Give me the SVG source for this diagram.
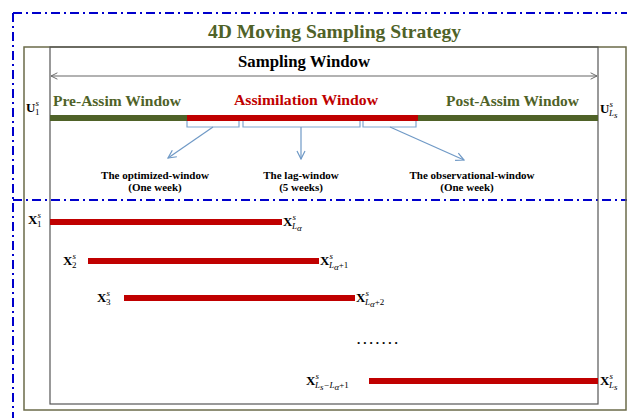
<svg xmlns="http://www.w3.org/2000/svg" width="627" height="418" viewBox="0 0 627 418">
<style>
text{font-family:"Liberation Serif","Times New Roman",serif;font-weight:bold}
.title{font-size:19.5px;fill:#4f6228}
.hd{font-size:16.5px;fill:#000}
.ol{font-size:15.5px;fill:#4f6228}
.rd{font-size:15.5px;fill:#c00000}
.sm{font-size:11px;fill:#000}
.lab{font-size:13px;fill:#000}
.sup{font-size:9px;font-style:italic;font-weight:normal}
.num{font-size:9px;font-weight:normal}
.blue{fill:none;stroke:#0000cc;stroke-width:2;stroke-dasharray:9 4 2 4}
.bar{stroke-width:6}
.br{fill:none;stroke:#7ea6d0;stroke-width:1.2}
.con{fill:none;stroke:#6f99c6;stroke-width:1.2}
</style>
<defs>
<marker id="ah" viewBox="0 0 10 10" refX="9" refY="5" markerWidth="8" markerHeight="8" orient="auto-start-reverse" markerUnits="userSpaceOnUse">
<polyline points="1,1 9,5 1,9" fill="none" stroke="#666" stroke-width="1.2"/>
</marker>
<marker id="bh" viewBox="0 0 10 10" refX="9" refY="5" markerWidth="10" markerHeight="10" orient="auto" markerUnits="userSpaceOnUse">
<polyline points="1,1 9,5 1,9" fill="none" stroke="#6f99c6" stroke-width="1.2"/>
</marker>
</defs>
<rect width="627" height="418" fill="#fff"/>
<g id="frame">
<path class="blue" d="M13,13 H627 M13,13 V418 M13,200 H627"/>
<rect x="24" y="47" width="602" height="363" fill="none" stroke="#6b6b4a" stroke-width="1.5"/>
<rect x="50" y="47" width="548" height="357" fill="none" stroke="#555" stroke-width="1.2"/>
</g>
<g id="title"><text class="title" x="208" y="38" textLength="253" lengthAdjust="spacingAndGlyphs">4D Moving Sampling Strategy</text></g>
<g id="sampling-window"><text class="hd" x="238" y="67" textLength="132" lengthAdjust="spacingAndGlyphs">Sampling Window</text></g>
<g id="pre-assim"><text class="ol" x="53" y="106" textLength="128" lengthAdjust="spacingAndGlyphs">Pre-Assim Window</text></g>
<g id="assim"><text class="rd" x="234" y="105" textLength="144" lengthAdjust="spacingAndGlyphs">Assimilation Window</text></g>
<g id="post-assim"><text class="ol" x="446" y="106" textLength="133" lengthAdjust="spacingAndGlyphs">Post-Assim Window</text></g>
<g id="timeline">
<line class="bar" x1="50" y1="118" x2="598" y2="118" stroke="#4f6228"/>
<line class="bar" x1="187" y1="118" x2="418" y2="118" stroke="#c00000"/>
</g>
<g id="brackets">
<path class="br" d="M187,121 V127 H239 V121 M243,121 V127 H360 V121 M363,121 V127 H416 V121"/>
</g>
<g id="u1"><text class="lab" x="26" y="112">U<tspan class="sup" dy="-6">s</tspan><tspan class="num" dx="-4" dy="9">1</tspan></text></g>
<g id="uls"><text class="lab" x="600" y="113">U<tspan class="sup" dy="-6">s</tspan><tspan class="sup" dx="-4" dy="9">L</tspan><tspan class="sup" font-size="7" dy="2">s</tspan></text></g>
<g id="opt-window"><text class="sm" x="155" y="179" text-anchor="middle">The optimized-window</text><text class="sm" x="155" y="191" text-anchor="middle">(One week)</text></g>
<g id="lag-window"><text class="sm" x="301" y="179" text-anchor="middle">The lag-window</text><text class="sm" x="301" y="191" text-anchor="middle">(5 weeks)</text></g>
<g id="obs-window"><text class="sm" x="472" y="179" text-anchor="middle">The observational-window</text><text class="sm" x="467" y="191" text-anchor="middle">(One week)</text></g>
<g id="connectors">
<line x1="51" y1="76" x2="597" y2="76" stroke="#666" stroke-width="1.2" marker-start="url(#ah)" marker-end="url(#ah)"/>
<line class="con" x1="213" y1="127" x2="168" y2="158" marker-end="url(#bh)"/>
<line class="con" x1="301" y1="127" x2="301" y2="159" marker-end="url(#bh)"/>
<line class="con" x1="390" y1="127" x2="464" y2="160" marker-end="url(#bh)"/>
</g>
<g id="run1">
<line class="bar" x1="50" y1="222" x2="282" y2="222" stroke="#c00000"/>
<text class="lab" x="28" y="224">X<tspan class="sup" dy="-6">s</tspan><tspan class="num" dx="-4" dy="9">1</tspan></text>
<text class="lab" x="283" y="226">X<tspan class="sup" dy="-6">s</tspan><tspan class="sup" dx="-4" dy="9">L</tspan><tspan class="sup" font-size="7" dy="2">α</tspan></text>
</g>
<g id="run2">
<line class="bar" x1="88" y1="261" x2="319" y2="261" stroke="#c00000"/>
<text class="lab" x="63" y="265">X<tspan class="sup" dy="-6">s</tspan><tspan class="num" dx="-4" dy="9">2</tspan></text>
<text class="lab" x="320" y="265">X<tspan class="sup" dy="-6">s</tspan><tspan class="sup" dx="-4" dy="9">L</tspan><tspan class="sup" font-size="7" dy="2">α</tspan><tspan class="num" dy="-2">+1</tspan></text>
</g>
<g id="run3">
<line class="bar" x1="124" y1="298" x2="355" y2="298" stroke="#c00000"/>
<text class="lab" x="97" y="302">X<tspan class="sup" dy="-6">s</tspan><tspan class="num" dx="-4" dy="9">3</tspan></text>
<text class="lab" x="356" y="302">X<tspan class="sup" dy="-6">s</tspan><tspan class="sup" dx="-4" dy="9">L</tspan><tspan class="sup" font-size="7" dy="2">α</tspan><tspan class="num" dy="-2">+2</tspan></text>
</g>
<g id="dots"><text class="lab" x="357" y="344" font-size="14" letter-spacing="3">.......</text></g>
<g id="runN">
<line class="bar" x1="369" y1="381" x2="598" y2="381" stroke="#c00000"/>
<text class="lab" x="306" y="385">X<tspan class="sup" dy="-6">s</tspan><tspan class="sup" dx="-4" dy="9">L</tspan><tspan class="sup" font-size="7" dy="2">s</tspan><tspan class="sup" dy="-2">−L</tspan><tspan class="sup" font-size="7" dy="2">α</tspan><tspan class="num" dy="-2">+1</tspan></text>
<text class="lab" x="600" y="385">X<tspan class="sup" dy="-6">s</tspan><tspan class="sup" dx="-4" dy="9">L</tspan><tspan class="sup" font-size="7" dy="2">s</tspan></text>
</g>
</svg>
